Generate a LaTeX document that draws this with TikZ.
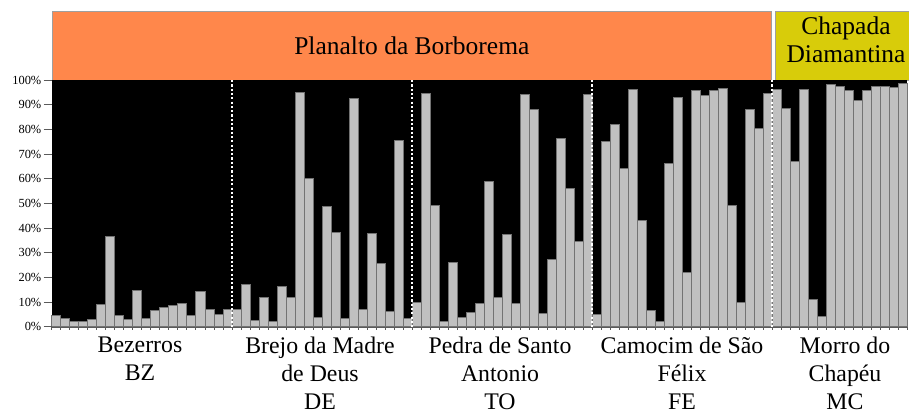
\documentclass[tikz,border=0pt]{standalone}
\usepackage{fontspec}
\setmainfont{Liberation Serif}
\newfontfamily\timesfam{Liberation Serif}
\definecolor{hdrorange}{RGB}{255,135,75}
\definecolor{hdryellow}{RGB}{216,204,10}
\definecolor{barfill}{RGB}{192,192,192}
\definecolor{baredge}{RGB}{115,115,115}
\definecolor{axisgray}{RGB}{90,90,90}
\begin{document}
\begin{tikzpicture}[x=1pt,y=-1pt,
  hdrbox/.style={draw=gray!75, line width=0.8pt, inner sep=0pt, anchor=north west},
  hdrtext/.style={font=\timesfam\fontsize{25.5}{27.4}\selectfont, align=center, inner sep=0pt},
  poplabel/.style={font=\timesfam\fontsize{23.8}{28.3}\selectfont, align=center, inner sep=0pt, anchor=north},
  ylabel/.style={font=\timesfam\fontsize{12.4}{14}\selectfont, inner sep=0pt, anchor=east},
  barstyle/.style={fill=barfill, draw=baredge, line width=0.6pt},
  sepline/.style={draw=white, line width=2.2pt, dash pattern=on 2.2pt off 2.1pt},
  tickline/.style={draw=axisgray, line width=0.6pt}
]
\useasboundingbox (0,0) rectangle (909,412);

% header boxes
\node[hdrbox, fill=hdrorange, minimum width=719.5pt, minimum height=69pt] (planalto) at (51.7,11) {};
\node[hdrtext] (planaltotext) at (planalto.center) {Planalto da Borborema};
\node[hdrbox, fill=hdryellow, minimum width=140pt, minimum height=69pt] (chapada) at (774.7,11) {};
\node[hdrtext, anchor=north] (chapadatext) at (846,16.9) {Chapada\\Diamantina};

% plot background (black = cluster 1)
\fill[black] (51.7,80) rectangle (907.3,326.7);

% bars (grey = cluster 2)
\foreach \h [count=\i] in {
 4.6,3.4,2,2,2.8,9,36.8,4.6,2.8,14.7,3.4,6.6,7.8,8.6,9.4,4.6,14.4,7,5,7,
 7,17.2,2.7,11.8,2.2,16.2,11.8,95,60.1,3.8,49,38.4,3.4,92.4,7,38,25.8,6.2,75.7,3.4,
 9.9,94.6,49.2,2.2,26.1,3.8,5.8,9.5,58.9,11.9,37.3,9.5,94.2,88.1,5.4,27.4,76.5,56.2,34.7,94.2,
 5,75,81.9,64.3,96.2,43.1,6.8,2.3,66.2,93,22.2,95.8,93.9,95.8,96.6,49.2,9.9,88.1,80.4,94.6,
 96.2,88.5,67.2,96.2,11.1,4.3,98.2,97.6,95.9,91.8,95.9,97.6,97.6,97.0,98.6}{
  \pgfmathsetmacro\xa{51.7+9.006*(\i-1)}
  \pgfmathsetmacro\yt{326.7-2.467*\h}
  \path[barstyle] (\xa,326.7) rectangle (\xa+9.006,\yt);
}

% axes
\draw[tickline] (51.7,327) -- (907.3,327);
\foreach \i in {0,...,95}{
  \draw[tickline] (51.7+9.006*\i,327) -- ++(0,3);
}
\foreach \k in {0,...,10}{
  \pgfmathtruncatemacro\p{10*\k}
  \pgfmathsetmacro\yy{326.7-24.67*\k}
  \draw[tickline] (43.5,\yy) -- (51.7,\yy);
  \node[ylabel] (ylab\k) at (41.5,\yy) {\p\%};
}

% population separators
\foreach \xs/\nm in {231.8/sa,411.9/sb,592.1/sc,772.2/sd}{
  \coordinate (\nm top) at (\xs,80);
  \coordinate (\nm bot) at (\xs,329);
  \draw[sepline] (\nm top) -- (\nm bot);
}

% population labels
\node[poplabel] (bz) at (140,336.3) {Bezerros\\BZ};
\node[poplabel] (de) at (320,336.3) {Brejo da Madre\\de Deus\\DE};
\node[poplabel] (to) at (500,336.3) {Pedra de Santo\\Antonio\\TO};
\node[poplabel] (fe) at (682,336.3) {Camocim de São\\Félix\\FE};
\node[poplabel] (mc) at (845,336.3) {Morro do\\Chapéu\\MC};
\end{tikzpicture}
\end{document}
